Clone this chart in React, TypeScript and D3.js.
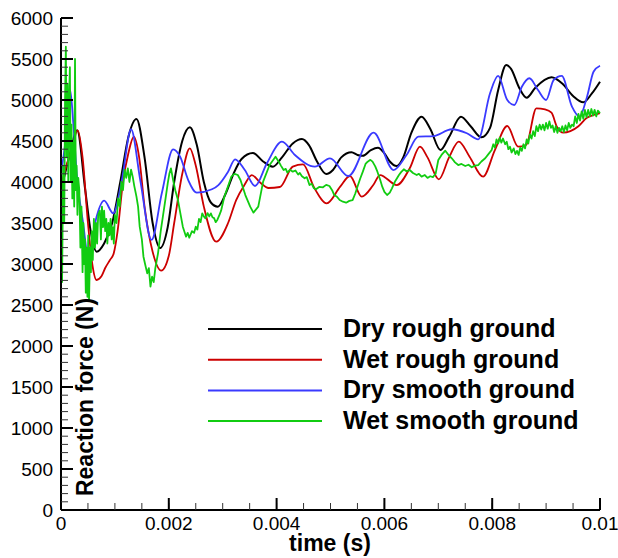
import React from "react";
import * as d3 from "d3";

// time in ms, force in N
const dryRough: [number, number][] = [
  [0, 3900], [0.15, 4300], [0.3, 4630], [0.45, 3900], [0.55, 3400], [0.66, 3150], [0.8, 3250], [0.95, 3500],
  [1.1, 4000], [1.25, 4550], [1.4, 4768], [1.55, 4300], [1.7, 3500], [1.84, 3195], [1.98, 3450], [2.1, 4000],
  [2.25, 4500], [2.39, 4667], [2.52, 4450], [2.65, 4000], [2.78, 3750], [2.91, 3699], [3.05, 3850], [3.2, 4100],
  [3.35, 4280], [3.56, 4354], [3.75, 4250], [3.93, 4187], [4.1, 4300], [4.3, 4470], [4.47, 4524], [4.6, 4450],
  [4.75, 4250], [4.92, 4097], [5.05, 4150], [5.2, 4300], [5.39, 4362], [5.5, 4330], [5.6, 4320], [5.75, 4390],
  [5.88, 4419], [6.0, 4350], [6.1, 4250], [6.23, 4195], [6.35, 4300], [6.5, 4600], [6.69, 4797], [6.85, 4650],
  [7.04, 4390], [7.2, 4550], [7.42, 4797], [7.6, 4680], [7.8, 4545], [7.96, 4660], [8.11, 5120], [8.26, 5427],
  [8.35, 5380], [8.5, 5150], [8.64, 5028], [8.8, 5150], [9.1, 5277], [9.3, 5200], [9.5, 5050], [9.69, 4972],
  [9.85, 5080], [10.0, 5223],
];

const wetRough: [number, number][] = [
  [0, 3950], [0.1, 4200], [0.2, 4400], [0.31, 4630], [0.4, 4300], [0.5, 3500], [0.58, 3000], [0.66, 2805],
  [0.75, 2850], [0.82, 2951], [0.91, 3050], [0.98, 3134], [1.05, 3400], [1.15, 4000], [1.25, 4350], [1.35, 4552],
  [1.45, 4300], [1.55, 3700], [1.7, 3150], [1.86, 2919], [2.0, 3100], [2.1, 3500], [2.25, 4100], [2.39, 4411],
  [2.5, 4200], [2.65, 3700], [2.88, 3272], [3.1, 3500], [3.25, 3780], [3.4, 3960], [3.54, 4085], [3.7, 3991],
  [3.85, 3927], [4.06, 3939], [4.3, 4187], [4.49, 4215], [4.7, 3927], [4.93, 3740], [5.18, 3943], [5.36, 4073],
  [5.58, 3821], [5.79, 3960], [5.92, 4085], [6.23, 3963], [6.47, 4167], [6.66, 4431], [6.8, 4300], [7.01, 4033],
  [7.2, 4300], [7.38, 4492], [7.58, 4309], [7.83, 4065], [8.05, 4390], [8.28, 4683], [8.48, 4431], [8.63, 4451],
  [8.82, 4899], [8.98, 4886], [9.1, 4845], [9.2, 4674], [9.32, 4601], [9.45, 4620], [9.6, 4680], [9.75, 4780],
  [9.9, 4820], [10.0, 4840],
];

const drySmooth: [number, number][] = [
  [0, 4100], [0.1, 4600], [0.17, 5122], [0.23, 4700], [0.29, 4110], [0.41, 3500], [0.51, 3073], [0.66, 3577],
  [0.8, 3772], [0.97, 3618], [1.13, 4024], [1.3, 4643], [1.47, 4024], [1.68, 3293], [1.87, 3862], [2.08, 4399],
  [2.21, 4309], [2.36, 4024], [2.52, 3870], [2.8, 3911], [2.92, 3963], [3.1, 4126], [3.23, 4277], [3.41, 4146],
  [3.6, 3951], [3.82, 4228], [4.1, 4492], [4.34, 4329], [4.71, 4187], [4.99, 4289], [5.33, 4073], [5.8, 4601],
  [6.17, 4146], [6.41, 4329], [6.63, 4553], [6.91, 4560], [7.25, 4643], [7.53, 4594], [7.74, 4521], [7.96, 5082],
  [8.11, 5293], [8.28, 5000], [8.41, 4939], [8.55, 5162], [8.69, 5265], [8.85, 5122], [9.0, 5000], [9.14, 5244],
  [9.29, 5293], [9.48, 4918], [9.62, 4797], [9.76, 5041], [9.88, 5345], [10.0, 5418],
];

const wetSmooth: [number, number][] = [
  [0, 3300], [0.02, 2780], [0.04, 4200], [0.06, 3500], [0.075, 5000], [0.09, 5650], [0.105, 4300], [0.12, 5200],
  [0.135, 4000], [0.15, 5000], [0.165, 5400], [0.18, 4000], [0.195, 4700], [0.21, 3800], [0.23, 4500], [0.245, 3700],
  [0.26, 5500], [0.275, 3900], [0.29, 4200], [0.305, 3600], [0.32, 4050], [0.34, 3900], [0.36, 3200], [0.38, 3700],
  [0.4, 2900], [0.415, 3500], [0.43, 3000], [0.445, 3300], [0.46, 2650], [0.475, 3200], [0.49, 2600], [0.505, 3350],
  [0.52, 2550], [0.54, 3200], [0.555, 2900], [0.57, 3400], [0.59, 3050], [0.61, 3550], [0.63, 3200], [0.65, 3500],
  [0.67, 3250], [0.69, 3600], [0.72, 3650], [0.74, 3300], [0.76, 3700], [0.78, 3450], [0.8, 3650], [0.82, 3400],
  [0.84, 3550], [0.86, 3250], [0.88, 3500], [0.9, 3350], [0.92, 3550], [0.94, 3300], [0.96, 3450], [0.98, 3250],
  [1.0, 3600], [1.03, 3500], [1.06, 3800], [1.09, 3700], [1.12, 4000], [1.15, 3900], [1.18, 4150], [1.21, 4050],
  [1.24, 4167], [1.27, 4000], [1.3, 4150], [1.33, 4065], [1.36, 3950], [1.4, 3821], [1.43, 3700], [1.46, 3455],
  [1.5, 3300], [1.53, 3089], [1.56, 3000], [1.6, 2886], [1.63, 2950], [1.66, 2723], [1.69, 2845], [1.72, 2780],
  [1.75, 2950], [1.8, 3130], [1.85, 3400], [1.89, 3577], [1.94, 3800], [1.98, 3984], [2.01, 4100], [2.04, 4167],
  [2.08, 4024], [2.12, 3900], [2.17, 3780], [2.22, 3600], [2.26, 3455], [2.32, 3333], [2.35, 3380], [2.38, 3320],
  [2.43, 3400], [2.47, 3380], [2.5, 3455], [2.53, 3420], [2.56, 3550], [2.59, 3510], [2.62, 3618], [2.65, 3580],
  [2.68, 3557], [2.72, 3620], [2.75, 3580], [2.78, 3618], [2.81, 3570], [2.84, 3560], [2.87, 3510], [2.9, 3537],
  [2.94, 3600], [2.97, 3650], [3.03, 3821], [3.1, 3950], [3.16, 4065], [3.22, 4100], [3.28, 4085], [3.33, 4024],
  [3.42, 3841], [3.51, 3699], [3.57, 3626], [3.66, 3699], [3.75, 4004], [3.87, 4207], [3.98, 4309], [4.04, 4248],
  [4.08, 4200], [4.13, 4146], [4.17, 4160], [4.2, 4114], [4.25, 4150], [4.3, 4126], [4.35, 4140], [4.4, 4090],
  [4.43, 4110], [4.47, 4070], [4.52, 4045], [4.56, 4060], [4.61, 3963], [4.65, 3980], [4.69, 3925], [4.73, 3911],
  [4.79, 3940], [4.86, 3935], [4.92, 3965], [4.98, 3951], [5.03, 3900], [5.07, 3841], [5.12, 3820], [5.17, 3780],
  [5.23, 3760], [5.29, 3748], [5.35, 3770], [5.41, 3780], [5.46, 3860], [5.5, 3943], [5.55, 4040], [5.6, 4126],
  [5.65, 4220], [5.69, 4248], [5.74, 4270], [5.78, 4248], [5.83, 4190], [5.87, 4126], [5.92, 4030], [5.96, 3943],
  [6.0, 3880], [6.05, 3841], [6.1, 3870], [6.14, 3923], [6.2, 4010], [6.27, 4085], [6.31, 4120], [6.36, 4155],
  [6.41, 4130], [6.47, 4146], [6.53, 4110], [6.6, 4085], [6.64, 4100], [6.69, 4065], [6.75, 4085], [6.8, 4050],
  [6.85, 4070], [6.9, 4060], [6.95, 4100], [7.0, 4268], [7.06, 4330], [7.13, 4382], [7.19, 4330], [7.25, 4289],
  [7.31, 4240], [7.37, 4207], [7.43, 4220], [7.5, 4195], [7.56, 4210], [7.62, 4179], [7.68, 4200], [7.74, 4207],
  [7.8, 4250], [7.87, 4289], [7.93, 4340], [7.99, 4390], [8.02, 4460], [8.05, 4420], [8.08, 4520], [8.11, 4470],
  [8.14, 4540], [8.17, 4480], [8.2, 4530], [8.24, 4460], [8.27, 4490], [8.3, 4400], [8.33, 4430], [8.36, 4360],
  [8.4, 4410], [8.43, 4340], [8.46, 4380], [8.49, 4330], [8.52, 4420], [8.55, 4380], [8.58, 4460], [8.61, 4410],
  [8.64, 4520], [8.67, 4470], [8.7, 4580], [8.73, 4530], [8.76, 4620], [8.79, 4560], [8.82, 4680], [8.85, 4620],
  [8.88, 4700], [8.91, 4640], [8.94, 4700], [8.97, 4630], [9.0, 4720], [9.03, 4650], [9.06, 4740], [9.09, 4660],
  [9.12, 4690], [9.15, 4610], [9.18, 4680], [9.21, 4600], [9.24, 4660], [9.27, 4620], [9.3, 4680], [9.33, 4610],
  [9.36, 4690], [9.39, 4630], [9.42, 4720], [9.45, 4660], [9.48, 4700], [9.51, 4680], [9.54, 4800], [9.57, 4720],
  [9.6, 4830], [9.63, 4750], [9.66, 4860], [9.69, 4770], [9.72, 4880], [9.75, 4790], [9.78, 4880], [9.81, 4800],
  [9.84, 4890], [9.87, 4810], [9.9, 4880], [9.93, 4800], [9.96, 4870], [10.0, 4840],
];

const seriesNames = ["Dry rough ground", "Wet rough ground", "Dry smooth ground", "Wet smooth ground"];
const seriesColors = ["#000000", "#cc0000", "#3a3aff", "#11cc11"];

const xTicks = [0, 0.002, 0.004, 0.006, 0.008, 0.01];
const xTickLabels = ["0", "0.002", "0.004", "0.006", "0.008", "0.01"];
const yTicks = [0, 500, 1000, 1500, 2000, 2500, 3000, 3500, 4000, 4500, 5000, 5500, 6000];

const FONT = "'Liberation Sans', Arial, Helvetica, sans-serif";

export default function App() {
  const W = 618, H = 558;
  const x = d3.scaleLinear().domain([0, 0.01]).range([61, 600]);
  const y = d3.scaleLinear().domain([0, 6000]).range([510, 18]);

  const smooth = d3.line<[number, number]>()
    .x((d) => x(d[0] / 1000))
    .y((d) => y(d[1]))
    .curve(d3.curveMonotoneX);
  const jagged = d3.line<[number, number]>()
    .x((d) => x(d[0] / 1000))
    .y((d) => y(d[1]));

  const xMinor = d3.range(0, 0.01 + 1e-9, 0.0005);
  const yMinor = d3.range(0, 6000 + 1e-6, 100);

  const data = [dryRough, wetRough, drySmooth, wetSmooth];

  return (
    <svg width={W} height={H} style={{ position: "absolute", left: 0, top: 0, background: "#fff" }}
      fontFamily={FONT}>
      <rect x={0} y={0} width={W} height={H} fill="#fff" />
      {/* series */}
      {data.map((d, i) => (
        <path key={i} d={(i === 3 ? jagged(d) : smooth(d)) || ""} fill="none"
          stroke={seriesColors[i]} strokeWidth={i === 0 ? 2 : 1.8} strokeLinejoin="round" />
      ))}
      {/* axes */}
      <line x1={x(0)} x2={x(0.01)} y1={y(0)} y2={y(0)} stroke="#000" strokeWidth={2} />
      <line x1={x(0)} x2={x(0)} y1={y(0)} y2={y(6000)} stroke="#000" strokeWidth={2} />
      {xMinor.map((t, i) => (
        <line key={"xm" + i} x1={x(t)} x2={x(t)} y1={y(0)} y2={y(0) - 7} stroke="#333" strokeWidth={1} />
      ))}
      {xTicks.map((t, i) => (
        <g key={"xt" + i}>
          <line x1={x(t)} x2={x(t)} y1={y(0)} y2={y(0) - 12} stroke="#000" strokeWidth={2} />
          <text x={x(t)} y={530} textAnchor="middle" fontSize={19} fill="#000">{xTickLabels[i]}</text>
        </g>
      ))}
      {yMinor.map((v, i) => (
        <line key={"ym" + i} x1={x(0)} x2={x(0) + 7} y1={y(v)} y2={y(v)} stroke="#333" strokeWidth={1} />
      ))}
      {yTicks.map((v, i) => (
        <g key={"yt" + i}>
          <line x1={x(0)} x2={x(0) + 12} y1={y(v)} y2={y(v)} stroke="#000" strokeWidth={2} />
          <text x={53} y={y(v) + 7} textAnchor="end" fontSize={19} fill="#000">{String(v)}</text>
        </g>
      ))}
      {/* axis titles */}
      <text x={330} y={551} textAnchor="middle" fontSize={23} fontWeight="bold" fill="#000">time (s)</text>
      <text transform="translate(93,397) rotate(-90)" textAnchor="middle" fontSize={23} fontWeight="bold" fill="#000">
        Reaction force (N)
      </text>
      {/* legend */}
      {seriesNames.map((n, i) => (
        <g key={"lg" + i}>
          <line x1={208} x2={322} y1={329 + i * 30.7} y2={329 + i * 30.7} stroke={seriesColors[i]} strokeWidth={2} />
          <text x={343} y={337 + i * 30.7} fontSize={25} fontWeight="bold" fill="#000">{n}</text>
        </g>
      ))}
    </svg>
  );
}
